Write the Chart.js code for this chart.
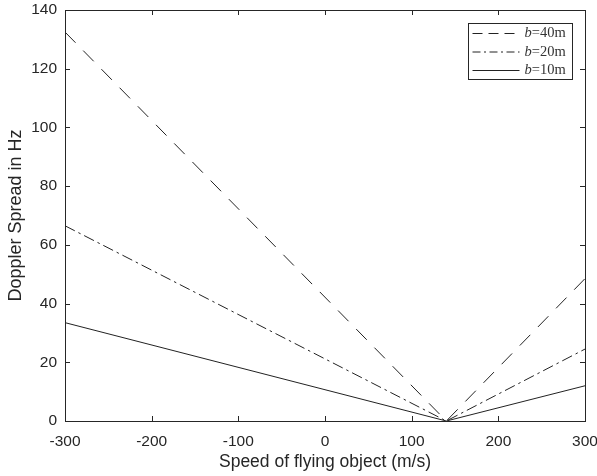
<!DOCTYPE html>
<html>
<head>
<meta charset="utf-8">
<script src="https://cdn.jsdelivr.net/npm/chart.js"></script>
<style>
  html, body { margin: 0; padding: 0; background: #fff; }
  #wrap { width: 597px; height: 476px; position: relative; }
</style>
</head>
<body>
<div id="wrap"><canvas id="chart"></canvas></div>
<script>
// speed of flying object (m/s)
const speeds = [-300, 140, 300];
// doppler spread (Hz)
const spread40 = [132.5, 0, 48.5];
const spread20 = [66.5, 0, 24.5];
const spread10 = [33.5, 0, 12];
const seriesLabels = ['40m', '20m', '10m'];
const xTicks = [-300, -200, -100, 0, 100, 200, 300];
const yTicks = [0, 20, 40, 60, 80, 100, 120, 140];

const axisColor = '#262626';
const lineColor = '#222';
const sans = 'Liberation Sans, Arial, sans-serif';

function toPoints(ys) {
    return speeds.map((x, i) => ({ x: x, y: ys[i] }));
}

// MATLAB-like box with inward ticks
const boxPlugin = {
    id: 'box',
    afterDatasetsDraw(chart) {
        const { ctx, chartArea: a, scales } = chart;
        ctx.save();
        ctx.strokeStyle = axisColor;
        ctx.lineWidth = 1;
        ctx.strokeRect(Math.round(a.left) + 0.5, Math.round(a.top) + 0.5,
            Math.round(a.right - a.left), Math.round(a.bottom - a.top));
        const len = 5;
        ctx.beginPath();
        xTicks.forEach(v => {
            const px = Math.round(scales.x.getPixelForValue(v)) + 0.5;
            ctx.moveTo(px, a.bottom); ctx.lineTo(px, a.bottom - len);
            ctx.moveTo(px, a.top); ctx.lineTo(px, a.top + len);
        });
        yTicks.forEach(v => {
            const py = Math.round(scales.y.getPixelForValue(v)) + 0.5;
            ctx.moveTo(a.left, py); ctx.lineTo(a.left + len, py);
            ctx.moveTo(a.right, py); ctx.lineTo(a.right - len, py);
        });
        ctx.stroke();
        ctx.restore();
    }
};

// legend box in the top right corner, "b" in italic serif
const legendPlugin = {
    id: 'texLegend',
    afterDatasetsDraw(chart) {
        const { ctx, chartArea: a } = chart;
        const w = 104, h = 56;
        const x0 = Math.round(a.right - 13 - w) + 0.5;
        const y0 = Math.round(a.top + 13) + 0.5;
        ctx.save();
        ctx.fillStyle = '#fff';
        ctx.fillRect(x0, y0, w, h);
        ctx.strokeStyle = axisColor;
        ctx.lineWidth = 1;
        ctx.strokeRect(x0, y0, w, h);
        chart.data.datasets.forEach((ds, i) => {
            const y = y0 + 10 + i * 18.5;
            ctx.strokeStyle = ds.borderColor;
            ctx.setLineDash(ds.legendDash || []);
            ctx.beginPath();
            ctx.moveTo(x0 + 4, y);
            ctx.lineTo(x0 + 51, y);
            ctx.stroke();
            ctx.setLineDash([]);
            ctx.fillStyle = '#333';
            ctx.textBaseline = 'middle';
            ctx.font = 'italic 14.5px "Liberation Serif", serif';
            ctx.fillText('b', x0 + 56, y);
            const bw = ctx.measureText('b').width;
            ctx.font = '14.5px "Liberation Serif", serif';
            ctx.fillText('=' + seriesLabels[i], x0 + 56 + bw, y);
        });
        ctx.restore();
    }
};

new Chart(document.getElementById('chart'), {
    type: 'line',
    data: {
        datasets: [
            { label: 'b=40m', data: toPoints(spread40), borderColor: lineColor, borderWidth: 1, borderDash: [15, 11], legendDash: [10, 6], pointRadius: 0, fill: false },
            { label: 'b=20m', data: toPoints(spread20), borderColor: lineColor, borderWidth: 1, borderDash: [11, 4, 2.5, 4], legendDash: [8, 3.5, 2, 3.5], pointRadius: 0, fill: false },
            { label: 'b=10m', data: toPoints(spread10), borderColor: lineColor, borderWidth: 1, pointRadius: 0, fill: false }
        ]
    },
    options: {
        responsive: true,
        maintainAspectRatio: false,
        animation: false,
        layout: { padding: { left: 0, right: 12, top: 10, bottom: 0 } },
        plugins: {
            legend: { display: false },
            tooltip: { enabled: false }
        },
        scales: {
            x: {
                type: 'linear',
                min: -300,
                max: 300,
                afterBuildTicks: s => { s.ticks = xTicks.map(v => ({ value: v })); },
                afterFit: s => { s.height = 55; s.paddingLeft = 0; s.paddingRight = 0; },
                grid: { display: false, drawTicks: false },
                border: { display: false },
                ticks: { color: axisColor, padding: 11, maxRotation: 0, font: { family: sans, size: 15.5 } },
                title: { display: true, text: 'Speed of flying object (m/s)', color: axisColor, padding: { top: 0, bottom: 3 }, font: { family: sans, size: 17.5 } }
            },
            y: {
                min: 0,
                max: 140,
                afterBuildTicks: s => { s.ticks = yTicks.map(v => ({ value: v })); },
                afterFit: s => { s.width = 65; s.paddingTop = 0; s.paddingBottom = 0; },
                grid: { display: false, drawTicks: false },
                border: { display: false },
                ticks: { color: axisColor, padding: 8, font: { family: sans, size: 15.5 } },
                title: { display: true, text: 'Doppler Spread in Hz', color: axisColor, padding: { top: 5, bottom: 2 }, font: { family: sans, size: 18 } }
            }
        }
    },
    plugins: [boxPlugin, legendPlugin]
});
</script>
</body>
</html>
